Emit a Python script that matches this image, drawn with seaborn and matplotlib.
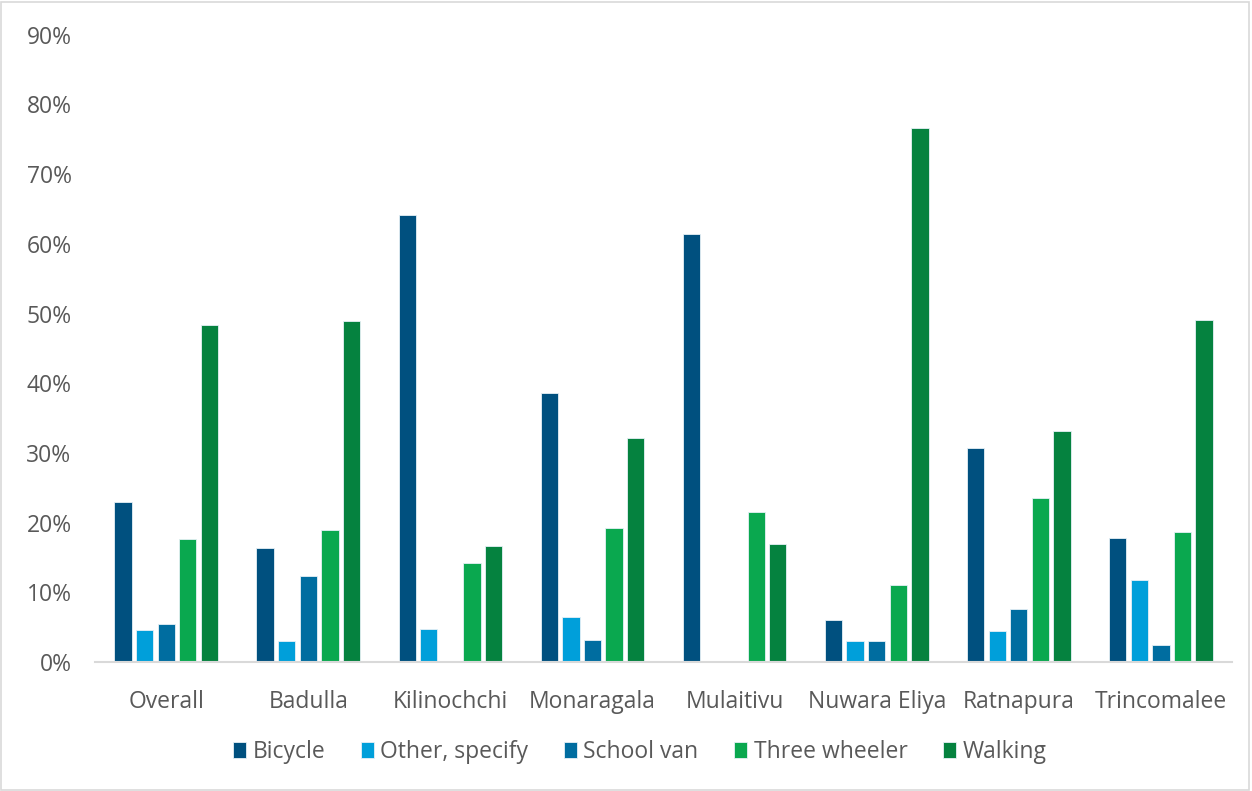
import matplotlib
matplotlib.use("Agg")
import matplotlib.pyplot as plt
from matplotlib.ticker import FixedLocator, PercentFormatter
import seaborn as sns
import pandas as pd

# Share of pupils by mode of travel to school, per district
districts = ["Overall", "Badulla", "Kilinochchi", "Monaragala", "Mulaitivu",
             "Nuwara Eliya", "Ratnapura", "Trincomalee"]
modes = ["Bicycle", "Other, specify", "School van", "Three wheeler", "Walking"]

bicycle = [23.0, 16.4, 64.1, 38.6, 61.4, 6.0, 30.7, 17.8]
other_specify = [4.6, 3.0, 4.7, 6.4, 0.0, 3.0, 4.4, 11.8]
school_van = [5.5, 12.3, 0.0, 3.2, 0.0, 3.0, 7.6, 2.4]
three_wheeler = [17.7, 19.0, 14.2, 19.3, 21.5, 11.1, 23.6, 18.6]
walking = [48.4, 48.9, 16.6, 32.2, 16.9, 76.6, 33.2, 49.1]

colors = ["#00507F", "#009FDA", "#006DA0", "#0AA84F", "#05823F"]

series = [bicycle, other_specify, school_van, three_wheeler, walking]
rows = []
for mode, vals in zip(modes, series):
    for d, v in zip(districts, vals):
        rows.append({"District": d, "Mode": mode, "Share": v})
df = pd.DataFrame(rows)

sns.set_theme(style="white")
plt.rcParams["font.family"] = ["Open Sans", "DejaVu Sans"]
text_color = "#595959"

fig = plt.figure(figsize=(12.52, 7.91), dpi=100)
ax = fig.add_axes([0.076, 0.163, 0.908, 0.793])

sns.barplot(data=df, x="District", y="Share", hue="Mode", order=districts,
            hue_order=modes, palette=colors, saturation=1, width=0.76, gap=0.2,
            edgecolor="#E6F0F6", linewidth=0.6, ax=ax, legend=True)

ax.set_ylim(0, 90)
ax.set_xlim(-0.5, len(districts) - 0.5)
ax.yaxis.set_major_locator(FixedLocator(range(0, 91, 10)))
ax.yaxis.set_major_formatter(PercentFormatter(decimals=0))
ax.set_xlabel("")
ax.set_ylabel("")

for s in ("top", "right", "left"):
    ax.spines[s].set_visible(False)
ax.spines["bottom"].set_color("#D9D9D9")
ax.spines["bottom"].set_linewidth(1.5)

ax.tick_params(axis="y", length=0, labelsize=16.5, labelcolor=text_color, pad=17)
ax.tick_params(axis="x", which="major", length=0, labelsize=16.5,
               labelcolor=text_color, pad=20)
ax.set_xticks([i - 0.5 for i in range(len(districts) + 1)], minor=True)
ax.tick_params(axis="x", which="minor", length=6, width=1.5, color="#D9D9D9",
               direction="out")

handles, labels = ax.get_legend_handles_labels()
ax.legend_.remove()
fig.legend(handles, labels, loc="center", bbox_to_anchor=(0.511, 0.049),
           ncol=5, frameon=False, fontsize=16.5, handlelength=0.55,
           handleheight=0.7, handletextpad=0.3, columnspacing=1.55,
           labelcolor=text_color)

# light border around the whole chart
fig.patches.append(plt.Rectangle((0.001, 0.001), 0.997, 0.997,
                                 transform=fig.transFigure, fill=False,
                                 edgecolor="#D9D9D9", linewidth=1.2))

fig.savefig("out.png", dpi=100, facecolor="white")
